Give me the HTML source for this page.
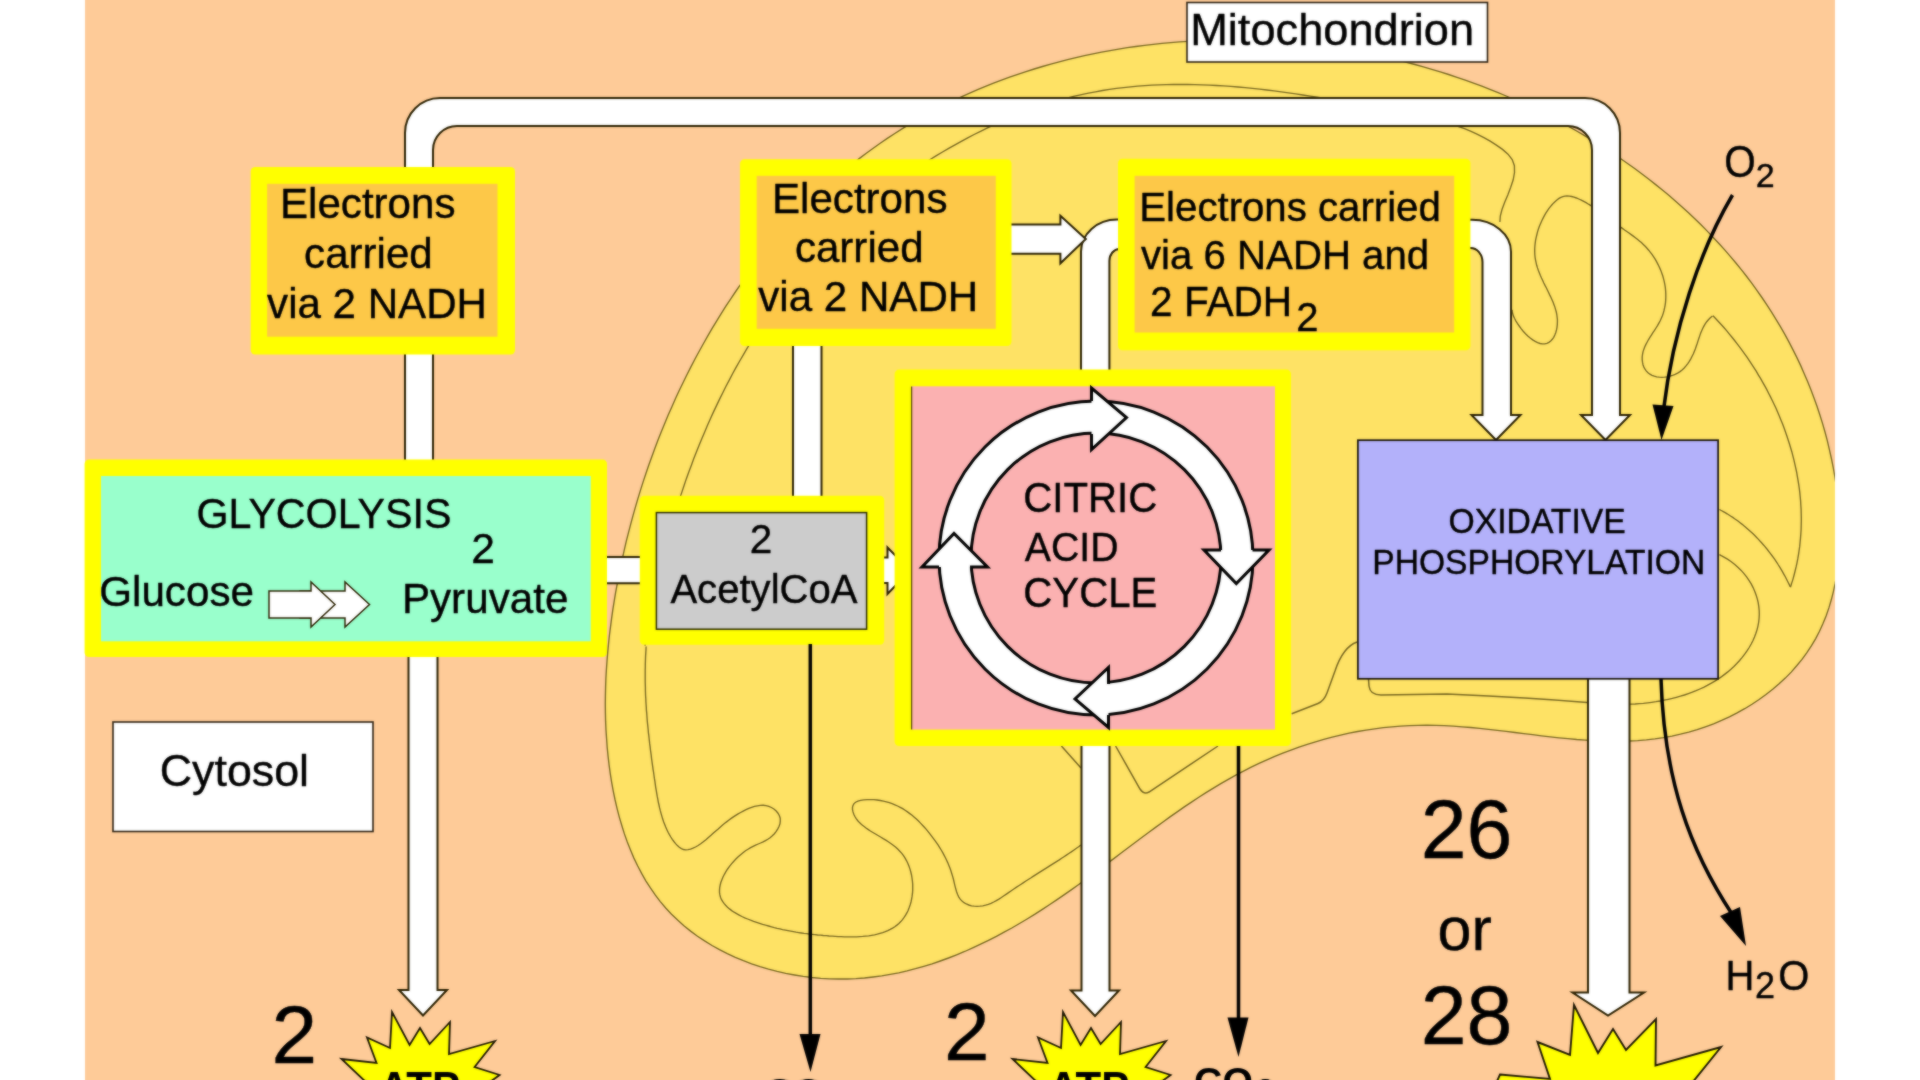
<!DOCTYPE html>
<html><head><meta charset="utf-8"><title>Cellular respiration overview</title>
<style>
html,body{margin:0;padding:0;background:#fff;width:1920px;height:1080px;overflow:hidden}
svg{display:block}
text{font-family:"Liberation Sans",sans-serif;fill:#000;stroke:#000;stroke-width:0.4px;stroke-linejoin:round}
</style></head><body>
<svg width="1920" height="1080" viewBox="0 0 1920 1080">
<defs><clipPath id="page"><rect x="85" y="-20" width="1750" height="1120"/></clipPath><filter id="soft" x="-2%" y="-2%" width="104%" height="104%" color-interpolation-filters="sRGB"><feGaussianBlur in="SourceGraphic" stdDeviation="0.85" result="b"/><feComposite in="SourceGraphic" in2="b" operator="arithmetic" k1="0" k2="0.45" k3="0.55" k4="0"/></filter></defs>
<g filter="url(#soft)">
<rect x="0" y="-20" width="1920" height="1120" fill="#fff"/>
<rect x="85" y="-20" width="1750" height="1120" fill="#FECB98"/>
<g clip-path="url(#page)">
<path d="M859.5,158.4 L866.3,153.2 L873.2,148.2 L880.2,143.2 L887.3,138.4 L894.4,133.7 L901.6,129.1 L908.9,124.7 L916.3,120.3 L923.7,116.1 L931.2,112.0 L938.8,108.0 L946.4,104.1 L954.1,100.3 L961.9,96.7 L969.7,93.1 L977.6,89.7 L985.5,86.4 L993.5,83.2 L1001.5,80.2 L1009.6,77.2 L1017.8,74.4 L1026.0,71.6 L1034.2,69.0 L1042.5,66.5 L1050.8,64.1 L1059.2,61.8 L1067.6,59.7 L1076.0,57.6 L1084.5,55.7 L1093.0,53.9 L1101.5,52.2 L1110.1,50.6 L1118.6,49.1 L1127.3,47.7 L1135.9,46.5 L1144.6,45.3 L1153.3,44.3 L1162.0,43.4 L1170.7,42.6 L1179.4,41.9 L1188.2,41.3 L1196.9,40.8 L1205.7,40.4 L1214.5,40.2 L1223.3,40.0 L1232.1,40.0 L1240.9,40.1 L1249.7,40.3 L1258.5,40.6 L1267.3,41.0 L1276.1,41.5 L1284.9,42.1 L1293.6,42.9 L1302.4,43.7 L1311.2,44.7 L1319.9,45.7 L1328.7,46.9 L1337.4,48.2 L1346.1,49.6 L1354.8,51.1 L1363.4,52.7 L1372.1,54.4 L1380.7,56.2 L1389.3,58.1 L1397.9,60.1 L1406.4,62.3 L1414.9,64.5 L1423.4,66.9 L1431.8,69.3 L1440.3,71.9 L1448.6,74.5 L1457.0,77.3 L1465.3,80.2 L1473.5,83.1 L1481.8,86.2 L1489.9,89.4 L1498.1,92.6 L1506.2,96.0 L1514.2,99.5 L1522.2,103.1 L1530.1,106.8 L1538.0,110.6 L1545.8,114.4 L1553.6,118.4 L1561.3,122.5 L1569.0,126.7 L1576.6,131.0 L1584.1,135.4 L1591.6,139.8 L1599.0,144.4 L1606.3,149.1 L1613.6,153.9 L1620.8,158.8 L1627.9,163.7 L1635.0,168.8 L1642.0,174.0 L1648.9,179.2 L1655.7,184.6 L1662.4,190.1 L1669.1,195.6 L1675.6,201.3 L1682.1,207.0 L1688.5,212.8 L1694.8,218.8 L1701.0,224.8 L1707.0,230.9 L1713.0,237.2 L1718.9,243.5 L1724.7,249.9 L1730.3,256.4 L1735.9,263.0 L1741.3,269.7 L1746.7,276.5 L1751.9,283.4 L1756.9,290.4 L1761.9,297.5 L1766.7,304.6 L1771.4,311.9 L1776.0,319.3 L1780.4,326.7 L1784.7,334.2 L1788.9,341.9 L1792.9,349.6 L1796.8,357.4 L1800.6,365.4 L1804.1,373.4 L1807.6,381.5 L1810.9,389.7 L1814.0,397.9 L1817.0,406.3 L1819.8,414.8 L1822.5,423.4 L1825.0,432.0 L1827.3,440.7 L1829.4,449.6 L1831.4,458.5 L1833.2,467.4 L1834.8,476.4 L1836.2,485.5 L1837.3,494.5 L1838.3,503.6 L1839.0,512.6 L1839.4,521.7 L1839.7,530.6 L1839.6,539.6 L1839.3,548.5 L1838.7,557.3 L1837.8,566.0 L1836.7,574.7 L1835.2,583.2 L1833.4,591.6 L1831.3,599.8 L1828.9,607.9 L1826.1,615.9 L1823.0,623.6 L1819.5,631.2 L1815.7,638.6 L1811.5,645.7 L1806.9,652.7 L1802.0,659.4 L1796.7,665.8 L1791.2,672.1 L1785.3,678.1 L1779.1,683.8 L1772.7,689.3 L1766.0,694.5 L1759.1,699.5 L1752.0,704.2 L1744.7,708.7 L1737.1,712.9 L1729.4,716.8 L1721.6,720.4 L1713.6,723.8 L1705.4,726.8 L1697.2,729.6 L1688.8,732.1 L1680.4,734.2 L1672.0,736.1 L1663.4,737.7 L1654.9,738.9 L1646.3,739.9 L1637.7,740.6 L1629.0,741.0 L1620.4,741.2 L1611.7,741.2 L1603.0,741.0 L1594.2,740.7 L1585.5,740.1 L1576.7,739.5 L1567.9,738.7 L1559.1,737.8 L1550.3,736.8 L1541.5,735.8 L1532.7,734.7 L1523.8,733.6 L1515.0,732.5 L1506.2,731.4 L1497.3,730.4 L1488.5,729.3 L1479.6,728.4 L1470.8,727.5 L1462.0,726.8 L1453.2,726.2 L1444.4,725.7 L1435.6,725.4 L1426.9,725.2 L1418.1,725.3 L1409.4,725.6 L1400.7,726.1 L1392.0,726.8 L1383.3,727.7 L1374.7,728.8 L1366.1,730.1 L1357.6,731.5 L1349.1,733.2 L1340.6,735.1 L1332.2,737.1 L1323.8,739.4 L1315.5,741.8 L1307.3,744.4 L1299.0,747.1 L1290.9,750.1 L1282.8,753.2 L1274.8,756.4 L1266.9,759.9 L1259.0,763.4 L1251.2,767.2 L1243.5,771.1 L1235.8,775.1 L1228.3,779.3 L1220.8,783.6 L1213.4,788.1 L1206.0,792.6 L1198.8,797.3 L1191.5,802.1 L1184.3,806.9 L1177.2,811.9 L1170.0,816.9 L1163.0,822.0 L1155.9,827.1 L1148.9,832.3 L1141.8,837.5 L1134.8,842.8 L1127.8,848.0 L1120.8,853.3 L1113.8,858.6 L1106.7,863.9 L1099.7,869.1 L1092.6,874.4 L1085.5,879.6 L1078.4,884.7 L1071.2,889.9 L1064.0,894.9 L1056.7,899.9 L1049.4,904.8 L1042.0,909.6 L1034.6,914.4 L1027.1,919.0 L1019.5,923.5 L1011.8,928.0 L1004.1,932.2 L996.4,936.4 L988.5,940.4 L980.6,944.2 L972.7,947.9 L964.7,951.5 L956.6,954.8 L948.5,958.0 L940.3,961.0 L932.1,963.8 L923.8,966.3 L915.5,968.7 L907.1,970.9 L898.7,972.8 L890.2,974.4 L881.7,975.9 L873.1,977.0 L864.5,978.0 L855.9,978.6 L847.2,979.0 L838.4,979.0 L829.6,978.8 L820.8,978.3 L812.0,977.5 L803.2,976.4 L794.5,975.0 L785.7,973.4 L777.1,971.4 L768.5,969.1 L760.0,966.6 L751.6,963.8 L743.4,960.7 L735.3,957.3 L727.3,953.6 L719.5,949.7 L712.0,945.5 L704.6,940.9 L697.5,936.2 L690.6,931.1 L683.9,925.7 L677.6,920.1 L671.5,914.2 L665.7,908.0 L660.3,901.6 L655.2,894.9 L650.4,887.9 L645.8,880.8 L641.6,873.4 L637.6,865.8 L633.9,858.1 L630.5,850.1 L627.3,842.1 L624.4,833.9 L621.8,825.5 L619.3,817.1 L617.1,808.6 L615.1,800.0 L613.3,791.3 L611.7,782.6 L610.3,773.8 L609.1,765.1 L608.1,756.3 L607.2,747.5 L606.6,738.8 L606.0,730.1 L605.6,721.4 L605.4,712.8 L605.3,704.1 L605.4,695.5 L605.6,686.9 L605.9,678.3 L606.4,669.7 L607.0,661.2 L607.7,652.6 L608.5,644.1 L609.4,635.5 L610.5,626.9 L611.6,618.4 L612.8,609.8 L614.2,601.2 L615.6,592.7 L617.2,584.1 L618.8,575.5 L620.5,566.9 L622.4,558.3 L624.3,549.8 L626.3,541.2 L628.5,532.6 L630.7,524.1 L633.0,515.6 L635.4,507.1 L637.9,498.6 L640.5,490.1 L643.2,481.6 L646.0,473.2 L648.9,464.8 L651.9,456.4 L655.0,448.1 L658.1,439.8 L661.4,431.5 L664.8,423.3 L668.2,415.1 L671.8,406.9 L675.4,398.8 L679.1,390.8 L683.0,382.8 L686.9,374.8 L690.9,366.9 L695.0,359.0 L699.2,351.2 L703.5,343.5 L707.8,335.8 L712.3,328.1 L716.9,320.6 L721.5,313.1 L726.2,305.7 L731.1,298.3 L736.0,291.0 L741.0,283.8 L746.1,276.7 L751.3,269.6 L756.5,262.6 L761.9,255.7 L767.3,248.9 L772.9,242.2 L778.5,235.6 L784.2,229.0 L790.0,222.6 L795.9,216.2 L801.9,210.0 L807.9,203.8 L814.1,197.8 L820.3,191.8 L826.6,186.0 L833.0,180.2 L839.5,174.6 L846.1,169.1 L852.7,163.7 L859.5,158.4Z" fill="#FEE265" stroke="#75651f" stroke-width="1.35"/>
<path d="M646.1,646.6 L646.0,649.6 L645.8,652.6 L645.6,655.6 L645.5,658.5 L645.4,661.5 L645.3,664.4 L645.3,667.3 L645.2,670.2 L645.2,673.1 L645.2,676.0 L645.2,678.9 L645.2,681.8 L645.3,684.6 L645.4,687.5 L645.4,690.3 L645.5,693.2 L645.6,696.0 L645.8,698.8 L645.9,701.6 L646.1,704.5 L646.3,707.3 L646.4,710.1 L646.7,712.9 L646.9,715.7 L647.1,718.5 L647.3,721.3 L647.6,724.1 L647.9,726.9 L648.2,729.8 L648.4,732.6 L648.8,735.4 L649.1,738.2 L649.4,741.0 L649.7,743.9 L650.1,746.7 L650.4,749.5 L650.8,752.4 L651.2,755.2 L651.5,758.1 L651.9,761.0 L652.3,763.8 L652.7,766.7 L653.1,769.6 L653.6,772.5 L654.0,775.5 L654.4,778.4 L654.9,781.4 L655.3,784.3 L655.7,787.3 L656.2,790.2 L656.7,793.2 L657.2,796.2 L657.8,799.1 L658.3,802.1 L659.0,805.0 L659.6,807.9 L660.3,810.7 L661.1,813.6 L661.9,816.4 L662.7,819.1 L663.7,821.9 L664.7,824.5 L665.7,827.1 L666.9,829.7 L668.1,832.2 L669.4,834.6 L670.8,837.0 L672.3,839.3 L673.9,841.5 L675.6,843.6 L677.4,845.6 L679.3,847.3 L681.4,848.6 L683.5,849.5 L685.8,849.8 L688.1,849.7 L690.5,849.1 L693.0,848.2 L695.5,847.0 L698.1,845.5 L700.7,843.7 L703.3,841.8 L705.9,839.7 L708.4,837.5 L711.0,835.3 L713.4,833.1 L715.8,830.9 L718.2,828.9 L720.4,826.9 L722.6,825.0 L724.7,823.3 L726.9,821.6 L729.0,820.0 L731.2,818.4 L733.4,816.9 L735.7,815.4 L738.1,813.9 L740.6,812.5 L743.2,811.1 L746.0,809.7 L748.8,808.4 L751.6,807.4 L754.5,806.4 L757.4,805.8 L760.3,805.4 L763.2,805.3 L766.0,805.6 L768.8,806.3 L771.4,807.5 L773.9,809.0 L776.2,811.0 L778.0,813.2 L779.4,815.7 L780.2,818.2 L780.3,820.9 L780.0,823.6 L779.1,826.2 L777.8,828.8 L776.2,831.3 L774.4,833.7 L772.3,835.8 L770.1,837.7 L767.8,839.3 L765.5,840.6 L763.1,841.9 L760.6,843.0 L758.2,844.0 L755.6,845.1 L753.1,846.3 L750.6,847.6 L748.0,849.2 L745.5,850.8 L743.0,852.7 L740.6,854.7 L738.2,856.8 L735.9,859.1 L733.6,861.5 L731.5,863.9 L729.5,866.4 L727.6,869.0 L725.9,871.7 L724.4,874.3 L723.0,877.0 L721.9,879.7 L720.9,882.3 L720.2,885.0 L719.7,887.6 L719.5,890.1 L719.5,892.5 L719.9,894.9 L720.5,897.2 L721.4,899.4 L722.6,901.4 L724.0,903.4 L725.6,905.3 L727.5,907.2 L729.5,908.9 L731.7,910.6 L734.1,912.2 L736.6,913.7 L739.2,915.1 L741.9,916.5 L744.7,917.8 L747.6,919.0 L750.6,920.2 L753.6,921.3 L756.6,922.3 L759.6,923.3 L762.6,924.3 L765.6,925.2 L768.6,926.0 L771.5,926.8 L774.3,927.6 L777.1,928.3 L779.9,928.9 L782.6,929.6 L785.4,930.2 L788.0,930.7 L790.7,931.2 L793.4,931.7 L796.1,932.2 L798.7,932.6 L801.4,933.0 L804.0,933.4 L806.7,933.7 L809.4,934.1 L812.1,934.4 L814.9,934.7 L817.6,935.0 L820.4,935.2 L823.3,935.5 L826.2,935.7 L829.1,936.0 L832.1,936.2 L835.1,936.4 L838.2,936.6 L841.2,936.7 L844.3,936.8 L847.4,936.9 L850.5,936.9 L853.6,936.9 L856.6,936.8 L859.7,936.6 L862.7,936.4 L865.7,936.1 L868.7,935.8 L871.6,935.3 L874.5,934.8 L877.3,934.2 L880.0,933.4 L882.7,932.6 L885.3,931.7 L887.8,930.6 L890.2,929.4 L892.6,928.1 L894.8,926.7 L896.9,925.1 L898.9,923.4 L900.8,921.6 L902.5,919.6 L904.1,917.4 L905.6,915.2 L907.0,912.7 L908.2,910.2 L909.2,907.6 L910.2,904.8 L911.0,902.0 L911.6,899.1 L912.1,896.2 L912.5,893.2 L912.7,890.2 L912.7,887.1 L912.7,884.1 L912.4,881.0 L912.0,878.0 L911.5,875.0 L910.8,872.0 L910.0,869.1 L909.0,866.3 L907.9,863.5 L906.6,860.8 L905.1,858.2 L903.5,855.7 L901.8,853.4 L899.8,851.2 L897.7,849.1 L895.5,847.1 L893.2,845.2 L890.8,843.5 L888.3,841.8 L885.8,840.1 L883.2,838.6 L880.6,837.0 L878.0,835.5 L875.5,834.0 L872.9,832.5 L870.4,831.0 L868.0,829.4 L865.7,827.8 L863.5,826.1 L861.5,824.4 L859.5,822.6 L857.8,820.7 L856.2,818.6 L854.9,816.5 L853.8,814.2 L853.0,811.9 L852.5,809.6 L852.5,807.4 L853.0,805.4 L854.0,803.6 L855.6,802.2 L857.9,801.1 L860.6,800.3 L863.7,799.8 L867.0,799.6 L870.4,799.6 L873.8,799.7 L877.1,800.0 L880.3,800.5 L883.4,801.1 L886.4,801.8 L889.3,802.7 L892.1,803.7 L894.9,804.8 L897.6,806.0 L900.2,807.3 L902.7,808.7 L905.1,810.3 L907.5,811.9 L909.8,813.6 L912.1,815.3 L914.3,817.2 L916.4,819.1 L918.5,821.1 L920.5,823.1 L922.5,825.2 L924.4,827.3 L926.3,829.4 L928.1,831.6 L929.9,833.8 L931.6,836.1 L933.3,838.3 L935.0,840.6 L936.6,842.9 L938.2,845.2 L939.7,847.6 L941.2,850.0 L942.6,852.4 L943.9,854.9 L945.3,857.5 L946.5,860.0 L947.7,862.6 L948.8,865.3 L949.9,868.0 L950.9,870.8 L951.8,873.7 L952.7,876.6 L953.5,879.5 L954.2,882.6 L954.9,885.6 L955.7,888.6 L956.5,891.5 L957.5,894.3 L958.7,896.8 L960.2,899.1 L962.0,901.1 L964.0,902.7 L966.3,904.0 L968.8,905.0 L971.5,905.8 L974.2,906.2 L977.1,906.3 L979.9,906.2 L982.8,905.8 L985.6,905.2 L988.3,904.3 L991.0,903.3 L993.7,902.0 L996.3,900.6 L998.9,899.1 L1001.4,897.5 L1003.9,895.8 L1006.4,894.1 L1008.9,892.4 L1011.3,890.7 L1013.8,889.0 L1016.2,887.4 L1018.7,885.8 L1021.1,884.2 L1023.5,882.6 L1025.9,881.0 L1028.3,879.5 L1030.7,878.0 L1033.1,876.4 L1035.5,874.9 L1037.8,873.4 L1040.2,871.9 L1042.6,870.4 L1045.0,868.9 L1047.4,867.4 L1049.7,865.9 L1052.1,864.4 L1054.5,862.9 L1056.9,861.4 L1059.3,859.9 L1061.6,858.3 L1064.0,856.7 L1066.4,855.1 L1068.8,853.5 L1071.3,851.9 L1073.7,850.2 L1076.1,848.5 L1078.6,846.8 L1081.0,845.0" fill="none" stroke="#75651f" stroke-width="1.35"/>
<path d="M645.0,645.6 L646.1,638.7 L647.3,631.7 L648.5,624.7 L649.7,617.7 L651.1,610.7 L652.4,603.7 L653.8,596.7 L655.3,589.7 L656.8,582.7 L658.4,575.7 L660.0,568.7 L661.7,561.7 L663.5,554.8 L665.2,547.8 L667.1,540.9 L669.0,533.9 L671.0,527.0 L673.0,520.1 L675.1,513.2 L677.2,506.3 L679.4,499.4 L681.7,492.6 L684.0,485.7 L686.3,478.9 L688.8,472.1 L691.3,465.4 L693.8,458.6 L696.4,451.9 L699.1,445.2 L701.9,438.5 L704.7,431.9 L707.5,425.3 L710.4,418.7 L713.4,412.1 L716.5,405.6 L719.6,399.1 L722.8,392.7 L726.0,386.3 L729.4,379.9 L732.7,373.5 L736.2,367.2 L739.7,361.0 L743.3,354.8 L746.9,348.6 L750.7,342.5 L754.4,336.4 L758.3,330.3 L762.2,324.3 L766.2,318.4 L770.3,312.5 L774.4,306.6 L778.6,300.8 L782.9,295.1 L787.3,289.4 L791.7,283.8 L796.2,278.2 L800.7,272.7 L805.4,267.2 L810.1,261.8 L814.9,256.4 L819.7,251.2 L824.7,245.9 L829.7,240.8 L834.7,235.7 L839.8,230.7 L845.0,225.7 L850.3,220.8 L855.6,216.0 L861.0,211.2 L866.5,206.5 L872.0,201.9 L877.5,197.3 L883.2,192.8 L888.9,188.4 L894.6,184.0 L900.4,179.8 L906.3,175.6 L912.2,171.5 L918.1,167.4 L924.2,163.4 L930.2,159.5 L936.4,155.7 L942.5,152.0 L948.7,148.3 L955.0,144.8 L961.3,141.3 L967.7,137.9 L974.1,134.5 L980.5,131.3 L987.0,128.1 L993.5,125.1 L1000.1,122.1 L1006.7,119.2 L1013.4,116.4 L1020.0,113.7 L1026.7,111.1 L1033.5,108.6 L1040.3,106.3 L1047.1,104.0 L1053.9,101.9 L1060.8,99.9 L1067.7,98.0 L1074.6,96.2 L1081.5,94.6 L1088.5,93.1 L1095.5,91.8 L1102.5,90.5 L1109.5,89.4 L1116.5,88.4 L1123.6,87.6 L1130.6,86.8 L1137.7,86.2 L1144.8,85.6 L1151.9,85.2 L1159.0,84.8 L1166.2,84.6 L1173.3,84.5 L1180.5,84.4 L1187.6,84.5 L1194.8,84.6 L1202.0,84.8 L1209.2,85.1 L1216.4,85.5 L1223.6,85.9 L1230.8,86.4 L1238.0,87.0 L1245.2,87.7 L1252.4,88.4 L1259.6,89.2 L1266.8,90.0 L1274.1,90.9 L1281.3,91.9 L1288.5,92.9 L1295.7,93.9 L1302.9,95.0 L1310.1,96.1 L1317.3,97.2 L1324.4,98.4 L1331.6,99.7 L1338.8,100.9 L1345.9,102.2 L1353.1,103.5 L1360.2,104.8 L1367.3,106.1 L1374.4,107.4 L1381.5,108.8 L1388.6,110.2 L1395.7,111.5 L1402.7,112.9 L1409.8,114.3 L1416.8,115.7 L1423.7,117.1 L1430.7,118.7 L1437.5,120.4 L1444.4,122.2 L1451.2,124.2 L1457.9,126.3 L1464.5,128.7 L1471.1,131.4 L1477.5,134.3 L1483.9,137.6 L1490.2,141.1 L1496.4,145.1 L1502.5,149.4 L1508.0,154.2 L1512.2,159.6 L1514.4,165.7 L1514.5,172.5 L1513.2,179.8 L1510.7,187.3 L1507.8,194.9 L1504.7,202.3 L1502.0,209.5 L1500.3,216.1 L1499.9,222.0" fill="none" stroke="#75651f" stroke-width="1.35"/>
<path d="M1512.1,309.9 L1512.2,311.6 L1512.7,313.6 L1513.4,315.9 L1514.5,318.3 L1515.8,320.8 L1517.4,323.4 L1519.2,326.0 L1521.1,328.7 L1523.2,331.2 L1525.5,333.7 L1527.8,336.0 L1530.2,338.0 L1532.7,339.9 L1535.2,341.4 L1537.6,342.6 L1540.1,343.5 L1542.4,343.9 L1544.7,343.8 L1546.9,343.3 L1548.9,342.3 L1550.7,341.0 L1552.3,339.3 L1553.7,337.3 L1554.8,335.0 L1555.8,332.5 L1556.5,329.9 L1557.0,327.3 L1557.3,324.7 L1557.4,322.1 L1557.4,319.5 L1557.1,317.0 L1556.8,314.5 L1556.3,312.0 L1555.6,309.6 L1554.9,307.1 L1554.0,304.7 L1553.1,302.3 L1552.1,299.9 L1551.0,297.5 L1549.8,295.1 L1548.7,292.7 L1547.5,290.2 L1546.3,287.8 L1545.0,285.4 L1543.8,283.0 L1542.7,280.5 L1541.5,278.0 L1540.4,275.5 L1539.4,273.0 L1538.4,270.5 L1537.5,267.9 L1536.7,265.3 L1536.1,262.7 L1535.5,260.0 L1535.1,257.3 L1534.8,254.5 L1534.7,251.7 L1534.7,248.8 L1534.9,246.0 L1535.2,243.1 L1535.6,240.2 L1536.2,237.3 L1536.9,234.5 L1537.6,231.6 L1538.5,228.8 L1539.5,226.1 L1540.6,223.4 L1541.8,220.7 L1543.1,218.1 L1544.4,215.6 L1545.8,213.2 L1547.3,210.9 L1548.8,208.7 L1550.4,206.6 L1552.0,204.7 L1553.7,202.9 L1555.5,201.2 L1557.2,199.7 L1559.0,198.4 L1560.9,197.3 L1562.9,196.6 L1564.9,196.1 L1567.1,196.0 L1569.3,196.1 L1571.6,196.5 L1574.0,197.2 L1576.4,198.0 L1578.8,199.0 L1581.3,200.1 L1583.7,201.4 L1586.1,202.7 L1588.5,204.2 L1590.9,205.6 L1593.2,207.2 L1595.6,208.7 L1597.9,210.3 L1600.2,211.9 L1602.4,213.6 L1604.7,215.3 L1606.9,216.9 L1609.2,218.6 L1611.4,220.3 L1613.6,222.0 L1615.8,223.6 L1618.0,225.3 L1620.2,226.9 L1622.4,228.4 L1624.6,230.0 L1626.8,231.5 L1629.0,233.0 L1631.2,234.6 L1633.3,236.1 L1635.4,237.7 L1637.4,239.3 L1639.4,240.9 L1641.4,242.6 L1643.3,244.4 L1645.2,246.3 L1647.0,248.2 L1648.7,250.2 L1650.4,252.3 L1652.0,254.4 L1653.5,256.6 L1655.0,258.9 L1656.3,261.2 L1657.6,263.6 L1658.8,266.0 L1659.9,268.4 L1661.0,270.9 L1661.9,273.5 L1662.8,276.0 L1663.5,278.6 L1664.2,281.3 L1664.7,283.9 L1665.2,286.6 L1665.5,289.2 L1665.7,291.9 L1665.8,294.6 L1665.8,297.3 L1665.7,299.9 L1665.5,302.6 L1665.1,305.3 L1664.6,307.9 L1664.0,310.5 L1663.3,313.1 L1662.4,315.7 L1661.3,318.2 L1660.2,320.7 L1658.9,323.1 L1657.5,325.6 L1656.0,328.0 L1654.5,330.4 L1652.9,332.7 L1651.4,335.1 L1649.9,337.4 L1648.4,339.8 L1647.1,342.2 L1645.8,344.6 L1644.7,347.0 L1643.8,349.4 L1643.0,351.9 L1642.5,354.5 L1642.2,357.0 L1642.2,359.6 L1642.5,362.2 L1643.0,364.7 L1643.9,367.1 L1645.0,369.2 L1646.4,371.1 L1648.0,372.8 L1649.9,374.2 L1652.0,375.3 L1654.3,376.2 L1656.7,376.8 L1659.3,377.2 L1661.9,377.3 L1664.5,377.2 L1667.2,376.8 L1669.9,376.2 L1672.6,375.4 L1675.1,374.4 L1677.6,373.1 L1680.0,371.6 L1682.1,369.9 L1684.2,368.0 L1686.0,365.9 L1687.8,363.6 L1689.3,361.3 L1690.8,358.8 L1692.1,356.3 L1693.4,353.7 L1694.5,351.0 L1695.5,348.4 L1696.4,345.8 L1697.3,343.2 L1698.1,340.6 L1699.0,338.1 L1699.8,335.6 L1700.7,333.1 L1701.7,330.7 L1702.8,328.3 L1703.9,326.1 L1705.2,323.9 L1706.7,321.7 L1708.4,319.7 L1710.3,317.8 L1712.5,315.9" fill="none" stroke="#75651f" stroke-width="1.35"/>
<path d="M1713.0,315.8 L1715.8,318.8 L1718.6,321.7 L1721.4,324.8 L1724.1,327.8 L1726.8,330.9 L1729.4,334.1 L1732.0,337.3 L1734.6,340.5 L1737.2,343.8 L1739.7,347.1 L1742.1,350.4 L1744.6,353.8 L1747.0,357.2 L1749.3,360.7 L1751.6,364.2 L1753.9,367.7 L1756.2,371.2 L1758.3,374.8 L1760.5,378.4 L1762.6,382.1 L1764.6,385.7 L1766.7,389.4 L1768.6,393.2 L1770.5,396.9 L1772.4,400.7 L1774.2,404.5 L1776.0,408.3 L1777.7,412.2 L1779.3,416.0 L1780.9,419.9 L1782.5,423.8 L1784.0,427.8 L1785.4,431.7 L1786.8,435.7 L1788.1,439.7 L1789.4,443.7 L1790.6,447.7 L1791.8,451.7 L1792.8,455.7 L1793.9,459.8 L1794.8,463.9 L1795.7,467.9 L1796.6,472.0 L1797.3,476.1 L1798.0,480.2 L1798.7,484.3 L1799.3,488.5 L1799.8,492.6 L1800.2,496.7 L1800.6,500.9 L1800.8,505.0 L1801.1,509.1 L1801.2,513.3 L1801.3,517.4 L1801.3,521.6 L1801.2,525.7 L1801.1,529.8 L1800.8,534.0 L1800.5,538.1 L1800.1,542.3 L1799.7,546.4 L1799.1,550.5 L1798.5,554.6 L1797.8,558.7 L1797.0,562.8 L1796.1,566.9 L1795.1,571.0 L1794.1,575.0 L1793.0,579.1 L1791.7,583.1 L1790.4,587.2" fill="none" stroke="#75651f" stroke-width="1.35"/>
<path d="M1790.2,586.8 L1789.3,584.8 L1788.3,582.7 L1787.3,580.7 L1786.3,578.7 L1785.3,576.7 L1784.2,574.8 L1783.1,572.8 L1782.0,570.8 L1780.8,568.8 L1779.6,566.9 L1778.4,565.0 L1777.2,563.0 L1775.9,561.1 L1774.6,559.2 L1773.3,557.4 L1771.9,555.5 L1770.5,553.7 L1769.1,551.8 L1767.7,550.0 L1766.3,548.2 L1764.8,546.4 L1763.3,544.7 L1761.8,543.0 L1760.2,541.3 L1758.7,539.6 L1757.1,537.9 L1755.5,536.3 L1753.8,534.6 L1752.2,533.0 L1750.5,531.5 L1748.8,529.9 L1747.1,528.4 L1745.4,526.9 L1743.6,525.5 L1741.9,524.1 L1740.1,522.7 L1738.3,521.3 L1736.5,520.0 L1734.6,518.7 L1732.8,517.4 L1730.9,516.2 L1729.0,515.0 L1727.1,513.8 L1725.2,512.7 L1723.3,511.6 L1721.3,510.5 L1719.4,509.5" fill="none" stroke="#75651f" stroke-width="1.35"/>
<path d="M1719.4,554.7 L1723.5,556.9 L1727.5,559.2 L1731.3,561.7 L1734.8,564.5 L1738.1,567.4 L1741.2,570.4 L1744.0,573.6 L1746.6,576.9 L1749.0,580.4 L1751.2,583.9 L1753.1,587.6 L1754.7,591.3 L1756.1,595.0 L1757.3,598.9 L1758.2,602.7 L1758.8,606.6 L1759.2,610.5 L1759.3,614.3 L1759.1,618.2 L1758.7,622.0 L1758.0,625.8 L1757.1,629.6 L1755.9,633.3 L1754.5,636.9 L1753.0,640.5 L1751.2,644.0 L1749.2,647.5 L1747.0,650.9 L1744.7,654.2 L1742.2,657.4 L1739.6,660.5 L1736.8,663.5 L1733.9,666.4 L1730.9,669.2 L1727.8,671.9 L1724.6,674.4 L1721.3,676.9 L1717.9,679.2 L1714.5,681.4 L1710.9,683.4 L1707.3,685.4 L1703.6,687.3 L1699.9,689.0 L1696.1,690.7 L1692.3,692.2 L1688.4,693.6 L1684.4,695.0 L1680.4,696.2 L1676.4,697.3 L1672.3,698.4 L1668.3,699.3 L1664.1,700.2 L1660.0,701.0 L1655.9,701.7 L1651.7,702.3 L1647.6,702.8 L1643.4,703.3 L1639.2,703.7 L1635.1,704.0 L1630.9,704.2 L1626.8,704.4 L1622.7,704.4 L1618.6,704.5 L1614.6,704.4 L1610.5,704.4 L1606.6,704.2 L1602.6,704.0 L1598.7,703.7 L1594.9,703.4 L1591.1,703.1 L1587.4,702.6" fill="none" stroke="#75651f" stroke-width="1.35"/>
<path d="M1218,746 L1149,792 Q1144,795 1140,789 L1115.6,746" fill="none" stroke="#75651f" stroke-width="1.5"/>
<path d="M1291.7,713.8 L1318,703.5 Q1324,701 1327,693 L1335,671 Q1343,647 1357,642" fill="none" stroke="#75651f" stroke-width="1.5"/>
<path d="M1368.5,679 L1369,686 Q1370,695 1381,695 L1447,694 Q1520,697 1587,702.5" fill="none" stroke="#75651f" stroke-width="1.5"/>
<path d="M1061.4,746 L1081,768" fill="none" stroke="#75651f" stroke-width="1.5"/>
</g>
<path d="M405,470 L405,133 A35,35 0 0 1 440,98 L1585,98 A35,35 0 0 1 1620,133 L1620,415 L1630,415 L1605.5,440 L1581,415 L1592,415 L1592,150 A24,24 0 0 0 1568,126 L457,126 A24,24 0 0 0 433,150 L433,470 Z" fill="#fff" stroke="#2a2000" stroke-width="2.0" stroke-linejoin="miter"/>
<path d="M408.5,650 L408.5,990 L399,990 L423,1015.5 L447,990 L437.5,990 L437.5,650 Z" fill="#fff" stroke="#2a2000" stroke-width="2.0" stroke-linejoin="miter"/>
<path d="M793,505 L793,340 L821.5,340 L821.5,505 Z" fill="#fff" stroke="#2a2000" stroke-width="2.0" stroke-linejoin="miter"/>
<path d="M600,557 L648,557 L648,583.3 L600,583.3 Z" fill="#fff" stroke="#2a2000" stroke-width="2.0" stroke-linejoin="miter"/>
<path d="M870,557.5 L887.5,557.5 L887.5,547.5 L910,570.5 L887.5,594 L887.5,583 L870,583 Z" fill="#fff" stroke="#2a2000" stroke-width="2.0" stroke-linejoin="miter"/>
<path d="M1125,219.6 L1117,219.6 A36,32 0 0 0 1081,251.6 L1081,380 L1109.4,380 L1109.4,261 A10,12 0 0 1 1119.4,249 L1125,249 Z" fill="#fff" stroke="#2a2000" stroke-width="2.0" stroke-linejoin="miter"/>
<path d="M1005,224.6 L1060.4,224.6 L1060.4,215.8 L1085.8,239 L1060.4,263.3 L1060.4,253.8 L1005,253.8 Z" fill="#fff" stroke="#2a2000" stroke-width="2.0" stroke-linejoin="miter"/>
<path d="M1462,219.8 L1472,219.8 A39,32 0 0 1 1511,251.8 L1511,415 L1520.5,415 L1496,440 L1471.5,415 L1482.5,415 L1482.5,262 A12,14 0 0 0 1470.5,248 L1462,248 Z" fill="#fff" stroke="#2a2000" stroke-width="2.0" stroke-linejoin="miter"/>
<path d="M1081.5,740 L1081.5,990.5 L1071,990.5 L1095,1016 L1119,990.5 L1109.5,990.5 L1109.5,740 Z" fill="#fff" stroke="#2a2000" stroke-width="2.0" stroke-linejoin="miter"/>
<path d="M1588,675 L1588,992.5 L1572.5,992.5 L1608,1015.5 L1644,992.5 L1629.5,992.5 L1629.5,675 Z" fill="#fff" stroke="#2a2000" stroke-width="2.0" stroke-linejoin="miter"/>
<rect x="250.7" y="167" width="264.3" height="187.6" rx="4.5" ry="4.5" fill="#FFFF00"/>
<rect x="267.1" y="183.8" width="230.4" height="152.9" fill="#FDC848"/>
<rect x="740" y="159.2" width="271.5" height="186.8" rx="4.5" ry="4.5" fill="#FFFF00"/>
<rect x="756.7" y="175.8" width="239.1" height="153.0" fill="#FDC848"/>
<rect x="1118" y="158.8" width="352.4" height="191.4" rx="4.5" ry="4.5" fill="#FFFF00"/>
<rect x="1134.6" y="175.8" width="319.6" height="156.7" fill="#FDC848"/>
<rect x="84.6" y="459.5" width="522.4" height="197.5" rx="4.5" ry="4.5" fill="#FFFF00"/>
<rect x="101" y="476" width="489.8" height="165.3" fill="#99FFCC"/>
<rect x="639.8" y="495.8" width="244.4" height="149.0" rx="4.5" ry="4.5" fill="#FFFF00"/>
<rect x="656" y="512.3" width="210.8" height="117.0" fill="#CCCCCC"/>
<rect x="656.4" y="512.6" width="210.2" height="116.6" fill="none" stroke="#2a2a00" stroke-width="1.5"/>
<rect x="894.6" y="369.6" width="396.4" height="376.4" rx="4.5" ry="4.5" fill="#FFFF00"/>
<rect x="911.3" y="386.3" width="363.7" height="343.3" fill="#FBB1B1"/>
<path d="M911.6,386.5 L911.6,729.5" stroke="#5a4a00" stroke-width="1.3"/>
<rect x="1357.9" y="440.2" width="360.2" height="238.6" fill="#B3B1FA" stroke="#151008" stroke-width="1.7"/>
<rect x="1187" y="2.5" width="300.5" height="59.5" fill="#fff" stroke="#2a1f10" stroke-width="1.6"/>
<rect x="113" y="722" width="260" height="109.5" fill="#fff" stroke="#2a1f10" stroke-width="1.6"/>
<path d="M300,591.0 L345,591.0 L345,582.0 L369.5,604.5 L345,627.0 L345,618.0 L300,618.0 Z" fill="#fff" stroke="#2a2000" stroke-width="1.5" stroke-linejoin="miter"/>
<path d="M269,591.0 L311,591.0 L311,582.0 L335,604.5 L311,627.0 L311,618.0 L269,618.0 Z" fill="#fff" stroke="#2a2000" stroke-width="1.5" stroke-linejoin="miter"/>
<circle cx="1096" cy="558" r="141.0" fill="none" stroke="#000" stroke-width="35"/>
<circle cx="1096" cy="558" r="141.0" fill="none" stroke="#fff" stroke-width="29"/>
<path d="M1091.5,401.0 L1091.5,388.0 L1126.5,417.5 L1091.5,449.5 L1091.5,434.0" fill="#fff" stroke="#000" stroke-width="3" stroke-linejoin="miter" stroke-miterlimit="10"/>
<path d="M1252.5,550.0 L1269.0,550.0 L1236.3,583.5 L1204.0,550.0 L1221.0,550.0" fill="#fff" stroke="#000" stroke-width="3" stroke-linejoin="miter" stroke-miterlimit="10"/>
<path d="M1108.5,715.0 L1108.5,727.5 L1075.0,699.0 L1108.5,667.5 L1108.5,684.0" fill="#fff" stroke="#000" stroke-width="3" stroke-linejoin="miter" stroke-miterlimit="10"/>
<path d="M939.0,567.0 L922.0,567.0 L954.0,533.5 L987.5,567.0 L970.0,567.0" fill="#fff" stroke="#000" stroke-width="3" stroke-linejoin="miter" stroke-miterlimit="10"/>
<path d="M810.3,644 L810.3,1040" stroke="#000" stroke-width="3.5" fill="none"/>
<path d="M799.5,1034 L820.5,1034 L810.5,1072 Z" fill="#000"/>
<path d="M1238.5,746 L1238.5,1022" stroke="#000" stroke-width="3.5" fill="none"/>
<path d="M1227.5,1017.5 L1248.5,1017.5 L1238.5,1057 Z" fill="#000"/>
<path d="M1732.5,195 C1700,250 1673,330 1663.5,410" stroke="#000" stroke-width="3.5" fill="none"/>
<path d="M1652.5,404.5 L1673.5,406 L1661.5,440 Z" fill="#000"/>
<path d="M1661,679 C1664,780 1690,850 1732,914" stroke="#000" stroke-width="3.5" fill="none"/>
<path d="M1720,916 L1740,907 L1746,946 Z" fill="#000"/>
<path d="M341.5,1059.0 L376.5,1063.0 L367.0,1037.5 L390.0,1048.0 L392.0,1012.0 L409.6,1045.0 L420.0,1028.0 L429.6,1044.0 L450.0,1022.0 L449.0,1054.0 L495.0,1041.0 L474.6,1067.0 L499.6,1075.0 L479.0,1090.0 L509.0,1110.0 L329.0,1110.0 L369.0,1085.0 Z" fill="#FFFF00" stroke="#1a1400" stroke-width="1.8" stroke-linejoin="miter"/>
<path d="M1012.5,1059.0 L1047.5,1063.0 L1038.0,1037.5 L1061.0,1048.0 L1063.0,1012.0 L1080.6,1045.0 L1091.0,1028.0 L1100.6,1044.0 L1121.0,1022.0 L1120.0,1054.0 L1166.0,1041.0 L1145.6,1067.0 L1170.6,1075.0 L1150.0,1090.0 L1180.0,1110.0 L1000.0,1110.0 L1040.0,1085.0 Z" fill="#FFFF00" stroke="#1a1400" stroke-width="1.8" stroke-linejoin="miter"/>
<path d="M1500.0,1074.5 L1550.0,1079.0 L1537.5,1042.0 L1570.0,1055.0 L1574.0,1005.0 L1598.0,1053.0 L1613.0,1029.0 L1626.0,1050.0 L1656.0,1019.0 L1655.5,1065.5 L1721.0,1047.0 L1692.0,1083.0 L1730.0,1095.0 L1700.0,1120.0 L1480.0,1120.0 Z" fill="#FFFF00" stroke="#1a1400" stroke-width="1.9" stroke-linejoin="miter"/>
<text x="280.0" y="218.2" font-size="42.1" >Electrons</text>
<text x="304.1" y="267.7" font-size="42.1" >carried</text>
<text x="267.1" y="317.7" font-size="42.1" >via 2 NADH</text>
<text x="772.0" y="212.6" font-size="42.1" >Electrons</text>
<text x="794.9" y="261.8" font-size="42.1" >carried</text>
<text x="758.3" y="311.2" font-size="42.1" >via 2 NADH</text>
<text x="1139.3" y="221" font-size="40.2" >Electrons carried</text>
<text x="1141.0" y="269" font-size="40.2" >via 6 NADH and</text>
<text transform="translate(1150.1,316) scale(1,1.05)" font-size="40.6" >2 FADH</text>
<text x="1296.3" y="331.2" font-size="40" >2</text>
<text transform="translate(196.5,527.5) scale(1,1.05)" font-size="41.2" >GLYCOLYSIS</text>
<text x="471.2" y="562.5" font-size="42.5" >2</text>
<text x="99.2" y="605.7" font-size="42.2" >Glucose</text>
<text x="401.9" y="612.5" font-size="42.2" >Pyruvate</text>
<text x="749.8" y="552.5" font-size="40.5" >2</text>
<text x="670.4" y="602.5" font-size="40.1" >AcetylCoA</text>
<text transform="translate(1023.3,512) scale(1,1.05)" font-size="40.2" >CITRIC</text>
<text transform="translate(1024.8,560.5) scale(1,1.05)" font-size="39.2" >ACID</text>
<text transform="translate(1023.3,606.5) scale(1,1.05)" font-size="40.2" >CYCLE</text>
<text transform="translate(1448.5,533) scale(1,1.05)" font-size="33.7" >OXIDATIVE</text>
<text transform="translate(1372.3,574) scale(1,1.05)" font-size="33.6" >PHOSPHORYLATION</text>
<text x="1190.2" y="44.9" font-size="45.2" >Mitochondrion</text>
<text x="159.7" y="786.2" font-size="44.8" >Cytosol</text>
<text transform="translate(1724.3,177.2) scale(1,1.09)" font-size="40.5" >O</text>
<text x="1755.8" y="187" font-size="34" >2</text>
<text transform="translate(1725.6,989.8) scale(1,1.07)" font-size="40" >H</text>
<text x="1755.0" y="998" font-size="36" >2</text>
<text transform="translate(1778.2,990) scale(1,1.08)" font-size="40" >O</text>
<text x="1420.7" y="857.5" font-size="82.5" >26</text>
<text x="1437.6" y="950" font-size="61" >or</text>
<text x="1420.7" y="1043.5" font-size="82.5" >28</text>
<text x="271.4" y="1063.2" font-size="82" >2</text>
<text x="944.0" y="1060" font-size="82" >2</text>
<text transform="translate(379.1,1103.3) scale(1,1.05)" font-size="42" font-weight="bold" style="stroke:none">ATP</text>
<text transform="translate(1048.3,1103.3) scale(1,1.05)" font-size="42" font-weight="bold" style="stroke:none">ATP</text>
<text x="1194.1" y="1094.7" font-size="39.2" font-weight="bold" style="stroke:none">CO</text>
<text x="1257" y="1098.5" font-size="30" font-weight="bold" style="stroke:none">2</text>
<text x="765" y="1106" font-size="39.2" font-weight="bold" style="stroke:none">CO</text>
<text x="828" y="1110" font-size="30" font-weight="bold" style="stroke:none">2</text>
<text x="1568" y="1118" font-size="52" font-weight="bold" style="stroke:none">ATP</text>
</g>
</svg>
</body></html>
